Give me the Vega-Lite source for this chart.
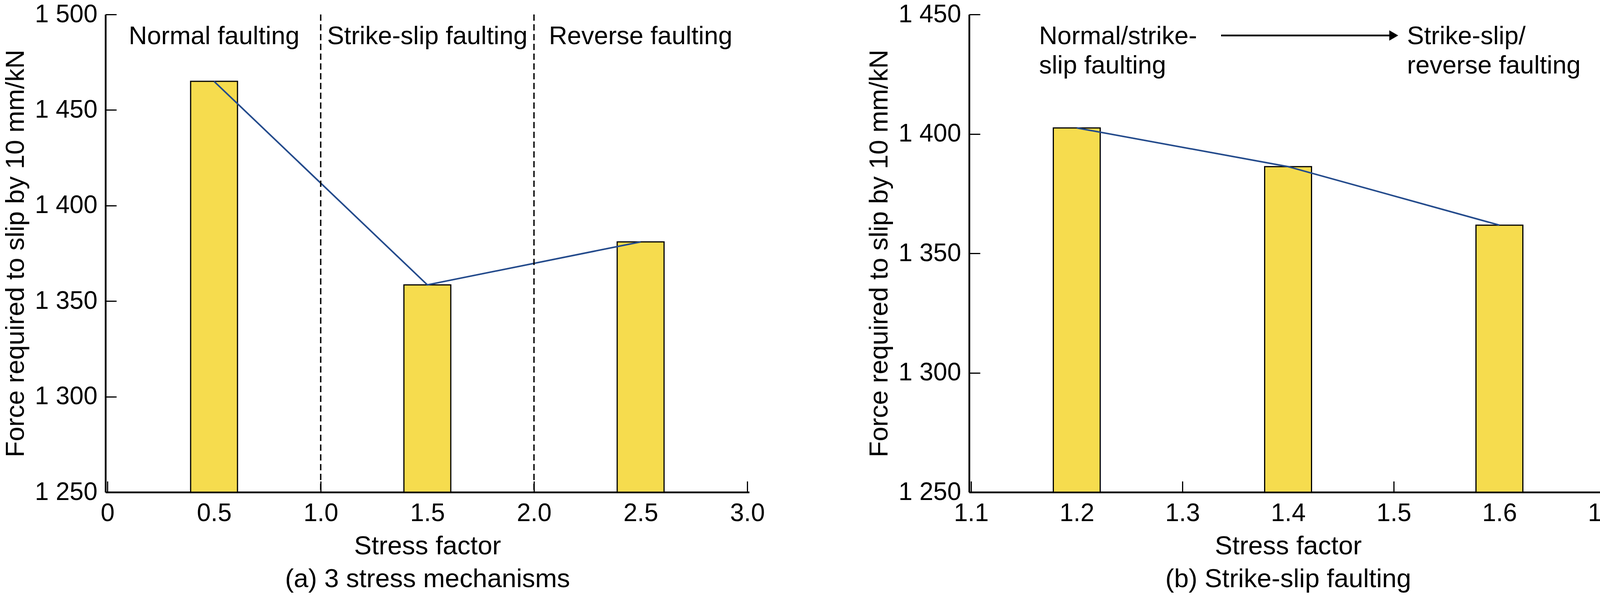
{
  "$schema": "https://vega.github.io/schema/vega-lite/v6.json",
  "background": "white",
  "padding": {"left": 6, "top": 5, "right": 30, "bottom": 5},
  "config": {
    "font": "Liberation Sans",
    "view": {"stroke": null},
    "axis": {
      "labelFont": "Liberation Sans",
      "labelFontSize": 64,
      "labelColor": "black",
      "titleFont": "Liberation Sans",
      "titleFontSize": 67,
      "titleFontWeight": "normal",
      "titleColor": "black",
      "domainColor": "black",
      "domainWidth": 4.5,
      "tickColor": "black",
      "tickWidth": 3,
      "tickSize": -28,
      "grid": false,
      "labelOverlap": false,
      "labelFlush": false,
      "labelBound": false
    }
  },
  "datasets": {
    "bars_a": [
      {"sf": 0.5, "force": 1465},
      {"sf": 1.5, "force": 1358.5},
      {"sf": 2.5, "force": 1381}
    ],
    "dividers_a": [{"sf": 1.0}, {"sf": 2.0}],
    "labels_a": [
      {"sf": 0.5, "force": 1484.4, "label": "Normal faulting"},
      {"sf": 1.5, "force": 1484.4, "label": "Strike-slip faulting"},
      {"sf": 2.5, "force": 1484.4, "label": "Reverse faulting"}
    ],
    "bars_b": [
      {"sf": 1.2, "force": 1402.5},
      {"sf": 1.4, "force": 1386.3},
      {"sf": 1.6, "force": 1361.8}
    ],
    "labels_b": [
      {"sf": 1.1643, "force": 1437.6, "label": "Normal/strike-"},
      {"sf": 1.1643, "force": 1425.3, "label": "slip faulting"},
      {"sf": 1.5126, "force": 1437.6, "label": "Strike-slip/"},
      {"sf": 1.5126, "force": 1425.3, "label": "reverse faulting"}
    ],
    "arrow_b": [{"sf": 1.3366, "sf2": 1.496, "force": 1441.2}],
    "arrowhead_b": [{"sf": 1.5, "force": 1441.2}]
  },
  "bounds": "flush",
  "spacing": 563,
  "hconcat": [
    {
      "width": 1648,
      "height": 1222,
      "layer": [
        {
          "data": {"name": "bars_a"},
          "mark": {"type": "bar", "width": 120, "fill": "#F6DC4E", "stroke": "black", "strokeWidth": 3},
          "encoding": {
            "x": {
              "field": "sf", "type": "quantitative",
              "scale": {"domain": [0, 3], "nice": false, "zero": false},
              "axis": {
                "values": [0, 0.5, 1, 1.5, 2, 2.5, 3],
                "labelExpr": "datum.value === 0 ? '0' : format(datum.value, '.1f')",
                "title": ["Stress factor", "(a) 3 stress mechanisms"],
                "titleLineHeight": 84,
                "labelPadding": 50,
                "titlePadding": 19
              }
            },
            "y": {
              "field": "force", "type": "quantitative",
              "scale": {"domain": [1250, 1500], "nice": false, "zero": false},
              "axis": {
                "values": [1250, 1300, 1350, 1400, 1450, 1500],
                "labelExpr": "substring(toString(datum.value), 0, 1) + ' ' + substring(toString(datum.value), 1)",
                "title": "Force required to slip by 10 mm/kN",
                "labelPadding": 49,
                "titlePadding": 14
              }
            },
            "y2": {"datum": 1250}
          }
        },
        {
          "data": {"name": "bars_a"},
          "mark": {"type": "line", "color": "#244B8C", "strokeWidth": 4},
          "encoding": {
            "x": {"field": "sf", "type": "quantitative"},
            "y": {"field": "force", "type": "quantitative"}
          }
        },
        {
          "data": {"name": "dividers_a"},
          "mark": {"type": "rule", "color": "black", "strokeWidth": 3.5, "strokeDash": [16, 9]},
          "encoding": {
            "x": {"field": "sf", "type": "quantitative"}
          }
        },
        {
          "data": {"name": "labels_a"},
          "mark": {"type": "text", "fontSize": 65, "align": "center", "baseline": "alphabetic", "color": "black", "font": "Liberation Sans"},
          "encoding": {
            "x": {"field": "sf", "type": "quantitative"},
            "y": {"field": "force", "type": "quantitative"},
            "text": {"field": "label"}
          }
        }
      ]
    },
    {
      "width": 1633,
      "height": 1222,
      "layer": [
        {
          "data": {"name": "bars_b"},
          "mark": {"type": "bar", "width": 120, "fill": "#F6DC4E", "stroke": "black", "strokeWidth": 3},
          "encoding": {
            "x": {
              "field": "sf", "type": "quantitative",
              "scale": {"domain": [1.1, 1.7], "nice": false, "zero": false},
              "axis": {
                "values": [1.1, 1.2, 1.3, 1.4, 1.5, 1.6, 1.7],
                "format": ".1f",
                "title": ["Stress factor", "(b) Strike-slip faulting"],
                "titleLineHeight": 84,
                "labelPadding": 50,
                "titlePadding": 19
              }
            },
            "y": {
              "field": "force", "type": "quantitative",
              "scale": {"domain": [1250, 1450], "nice": false, "zero": false},
              "axis": {
                "values": [1250, 1300, 1350, 1400, 1450],
                "labelExpr": "substring(toString(datum.value), 0, 1) + ' ' + substring(toString(datum.value), 1)",
                "title": "Force required to slip by 10 mm/kN",
                "labelPadding": 49,
                "titlePadding": 14
              }
            },
            "y2": {"datum": 1250}
          }
        },
        {
          "data": {"name": "bars_b"},
          "mark": {"type": "line", "color": "#244B8C", "strokeWidth": 4},
          "encoding": {
            "x": {"field": "sf", "type": "quantitative"},
            "y": {"field": "force", "type": "quantitative"}
          }
        },
        {
          "data": {"name": "labels_b"},
          "mark": {"type": "text", "fontSize": 65, "align": "left", "baseline": "alphabetic", "color": "black", "font": "Liberation Sans"},
          "encoding": {
            "x": {"field": "sf", "type": "quantitative"},
            "y": {"field": "force", "type": "quantitative"},
            "text": {"field": "label"}
          }
        },
        {
          "data": {"name": "arrow_b"},
          "mark": {"type": "rule", "color": "black", "strokeWidth": 4.5},
          "encoding": {
            "x": {"field": "sf", "type": "quantitative"},
            "x2": {"field": "sf2"},
            "y": {"field": "force", "type": "quantitative"}
          }
        },
        {
          "data": {"name": "arrowhead_b"},
          "mark": {"type": "point", "shape": "triangle-right", "filled": true, "color": "black", "size": 700, "opacity": 1},
          "encoding": {
            "x": {"field": "sf", "type": "quantitative"},
            "y": {"field": "force", "type": "quantitative"}
          }
        }
      ]
    }
  ]
}
